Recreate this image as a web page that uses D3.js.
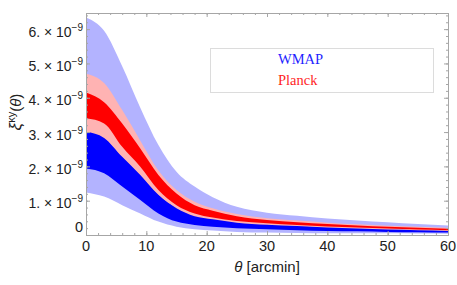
<!DOCTYPE html>
<html>
<head>
<meta charset="utf-8">
<script src="https://cdn.jsdelivr.net/npm/d3@7"></script>
<style>
body { margin: 0; background: #fff; }
svg text { font-family: "Liberation Sans", Arial, sans-serif; }
</style>
</head>
<body>
<div id="chart"></div>
<script>

// theta in arcmin, correlation values in units of 1e-9
var theta     = [0, 3, 6, 9, 12, 15, 18, 21, 25, 30, 35, 40, 45, 50, 55, 60];
var wmapHi2   = [6.34, 5.95, 4.92, 3.71, 2.62, 1.84, 1.41, 1.10, 0.82, 0.65, 0.56, 0.48, 0.42, 0.37, 0.32, 0.28];
var wmapHi1   = [3.03, 2.85, 2.30, 1.77, 1.19, 0.80, 0.57, 0.48, 0.38, 0.32, 0.28, 0.24, 0.21, 0.18, 0.16, 0.14];
var wmapLo1   = [1.94, 1.80, 1.41, 1.02, 0.63, 0.39, 0.29, 0.24, 0.20, 0.17, 0.14, 0.12, 0.11, 0.09, 0.08, 0.07];
var wmapLo2   = [1.24, 1.12, 0.87, 0.63, 0.39, 0.24, 0.17, 0.13, 0.09, 0.07, 0.06, 0.05, 0.05, 0.05, 0.045, 0.04];
var planckHi2 = [4.70, 4.43, 3.64, 2.75, 1.88, 1.31, 0.97, 0.78, 0.61, 0.49, 0.42, 0.36, 0.31, 0.27, 0.24, 0.21];
var planckHi1 = [4.15, 3.87, 3.25, 2.52, 1.75, 1.21, 0.87, 0.71, 0.55, 0.44, 0.37, 0.32, 0.28, 0.24, 0.21, 0.18];
var planckLo1 = [3.40, 3.25, 2.57, 1.99, 1.31, 0.87, 0.63, 0.51, 0.41, 0.34, 0.29, 0.25, 0.22, 0.19, 0.16, 0.14];
var planckLo2 = [3.01, 2.83, 2.28, 1.75, 1.17, 0.78, 0.55, 0.46, 0.36, 0.30, 0.26, 0.22, 0.19, 0.16, 0.14, 0.12];

var xTicks = [0, 10, 20, 30, 40, 50, 60];
var yTicks = [1, 2, 3, 4, 5, 6];
var legendNames = ["WMAP", "Planck"];
var legendColors = ["#1f1fff", "#ff1f1f"];

var width = 457, height = 285;

var svg = d3.select("#chart").append("svg")
	.attr("width", width)
	.attr("height", height);

var x = d3.scaleLinear().domain([0, 60]).range([86, 448]);
var y = d3.scaleLinear().domain([0, 6.47]).range([235, 13]);

// bands: back to front
var bands = [
	{lo: wmapLo2, hi: wmapHi2, color: "#b3b3ff"},
	{lo: wmapLo1, hi: wmapHi1, color: "#0000ff"},
	{lo: planckLo2, hi: planckHi2, color: "#ffb3b3"},
	{lo: planckLo1, hi: planckHi1, color: "#ff0000"}
];

var area = d3.area()
	.curve(d3.curveMonotoneX)
	.x(function(d) {return x(d.t);})
	.y0(function(d) {return y(d.lo);})
	.y1(function(d) {return y(d.hi);});

svg.selectAll("path.band")
	.data(bands)
	.enter()
	.append("path")
	.attr("class", "band")
	.attr("fill", function(d) {return d.color;})
	.attr("d", function(b) {
		return area(theta.map(function(t, i) {
			return {t: t, lo: b.lo[i], hi: b.hi[i]};
		}));
	});

// frame + ticks (inside, mathematica style)
var frameColor = "#a6a6a6";
var xMinor = d3.range(0, 61, 2);
var yMinor = d3.range(0, 6.41, 0.2);

function styleAxis(g) {
	g.select(".domain").attr("stroke", frameColor);
	g.selectAll(".tick line").attr("stroke", frameColor);
	g.selectAll(".tick text").remove();
}

svg.append("g").attr("transform", "translate(0,235)")
	.call(d3.axisBottom(x).tickValues(xMinor).tickSize(-2).tickSizeOuter(0)).call(styleAxis);
svg.append("g").attr("transform", "translate(0,235)")
	.call(d3.axisBottom(x).tickValues(xTicks).tickSize(-4).tickSizeOuter(0)).call(styleAxis);
svg.append("g").attr("transform", "translate(0,13)")
	.call(d3.axisTop(x).tickValues(xMinor).tickSize(-2).tickSizeOuter(0)).call(styleAxis);
svg.append("g").attr("transform", "translate(0,13)")
	.call(d3.axisTop(x).tickValues(xTicks).tickSize(-4).tickSizeOuter(0)).call(styleAxis);
svg.append("g").attr("transform", "translate(86,0)")
	.call(d3.axisLeft(y).tickValues(yMinor).tickSize(-2).tickSizeOuter(0)).call(styleAxis);
svg.append("g").attr("transform", "translate(86,0)")
	.call(d3.axisLeft(y).tickValues(yTicks).tickSize(-4).tickSizeOuter(0)).call(styleAxis);
svg.append("g").attr("transform", "translate(448,0)")
	.call(d3.axisRight(y).tickValues(yMinor).tickSize(-2).tickSizeOuter(0)).call(styleAxis);
svg.append("g").attr("transform", "translate(448,0)")
	.call(d3.axisRight(y).tickValues(yTicks).tickSize(-4).tickSizeOuter(0)).call(styleAxis);

// x tick labels
svg.selectAll("text.xlab")
	.data(xTicks)
	.enter()
	.append("text")
	.attr("class", "xlab")
	.attr("x", function(d) {return x(d);})
	.attr("y", 251)
	.attr("text-anchor", "middle")
	.attr("font-size", 14.5)
	.attr("fill", "#222")
	.text(function(d) {return d;});

// y tick labels  "6. × 10^-9"
var ylab = svg.selectAll("text.ylab")
	.data(yTicks)
	.enter()
	.append("text")
	.attr("class", "ylab")
	.attr("x", 83)
	.attr("y", function(d) {return y(d) + 7.5;})
	.attr("text-anchor", "end")
	.attr("font-size", 14)
	.attr("fill", "#222");
ylab.append("tspan").text(function(d) {return d + ". \u00d7 10";});
ylab.append("tspan").attr("dy", -6).attr("font-size", 10).text("\u22129");

svg.append("text")
	.attr("x", 83).attr("y", 232)
	.attr("text-anchor", "end")
	.attr("font-size", 14.5)
	.attr("fill", "#222")
	.text("0");

// axis titles
var xt = svg.append("text")
	.attr("x", 267).attr("y", 272)
	.attr("text-anchor", "middle")
	.attr("font-size", 15)
	.attr("fill", "#222");
xt.append("tspan").attr("font-style", "italic").text("\u03b8");
xt.append("tspan").text(" [arcmin]");

var yt = svg.append("text")
	.attr("transform", "translate(21,112) rotate(-90)")
	.attr("text-anchor", "middle")
	.attr("font-size", 15)
	.attr("fill", "#222");
yt.append("tspan").attr("font-style", "italic").attr("font-size", 17).text("\u03be");
yt.append("tspan").attr("dy", -6).attr("font-size", 11).text("\u03bay");
yt.append("tspan").attr("dy", 6).text("(");
yt.append("tspan").attr("font-style", "italic").text("\u03b8");
yt.append("tspan").text(")");

// legend
var legend = svg.append("g");
legend.append("rect")
	.attr("x", 210.5).attr("y", 48.5)
	.attr("width", 223).attr("height", 44)
	.attr("fill", "#fff")
	.attr("stroke", "#dcdcdc");
legend.selectAll("text")
	.data(legendNames)
	.enter()
	.append("text")
	.attr("x", 278)
	.attr("y", function(d, i) {return 64 + i * 21;})
	.style("font-family", "'Liberation Serif', 'Times New Roman', serif")
	.attr("font-size", 14.5)
	.attr("fill", function(d, i) {return legendColors[i];})
	.text(function(d) {return d;});

</script>
</body>
</html>
